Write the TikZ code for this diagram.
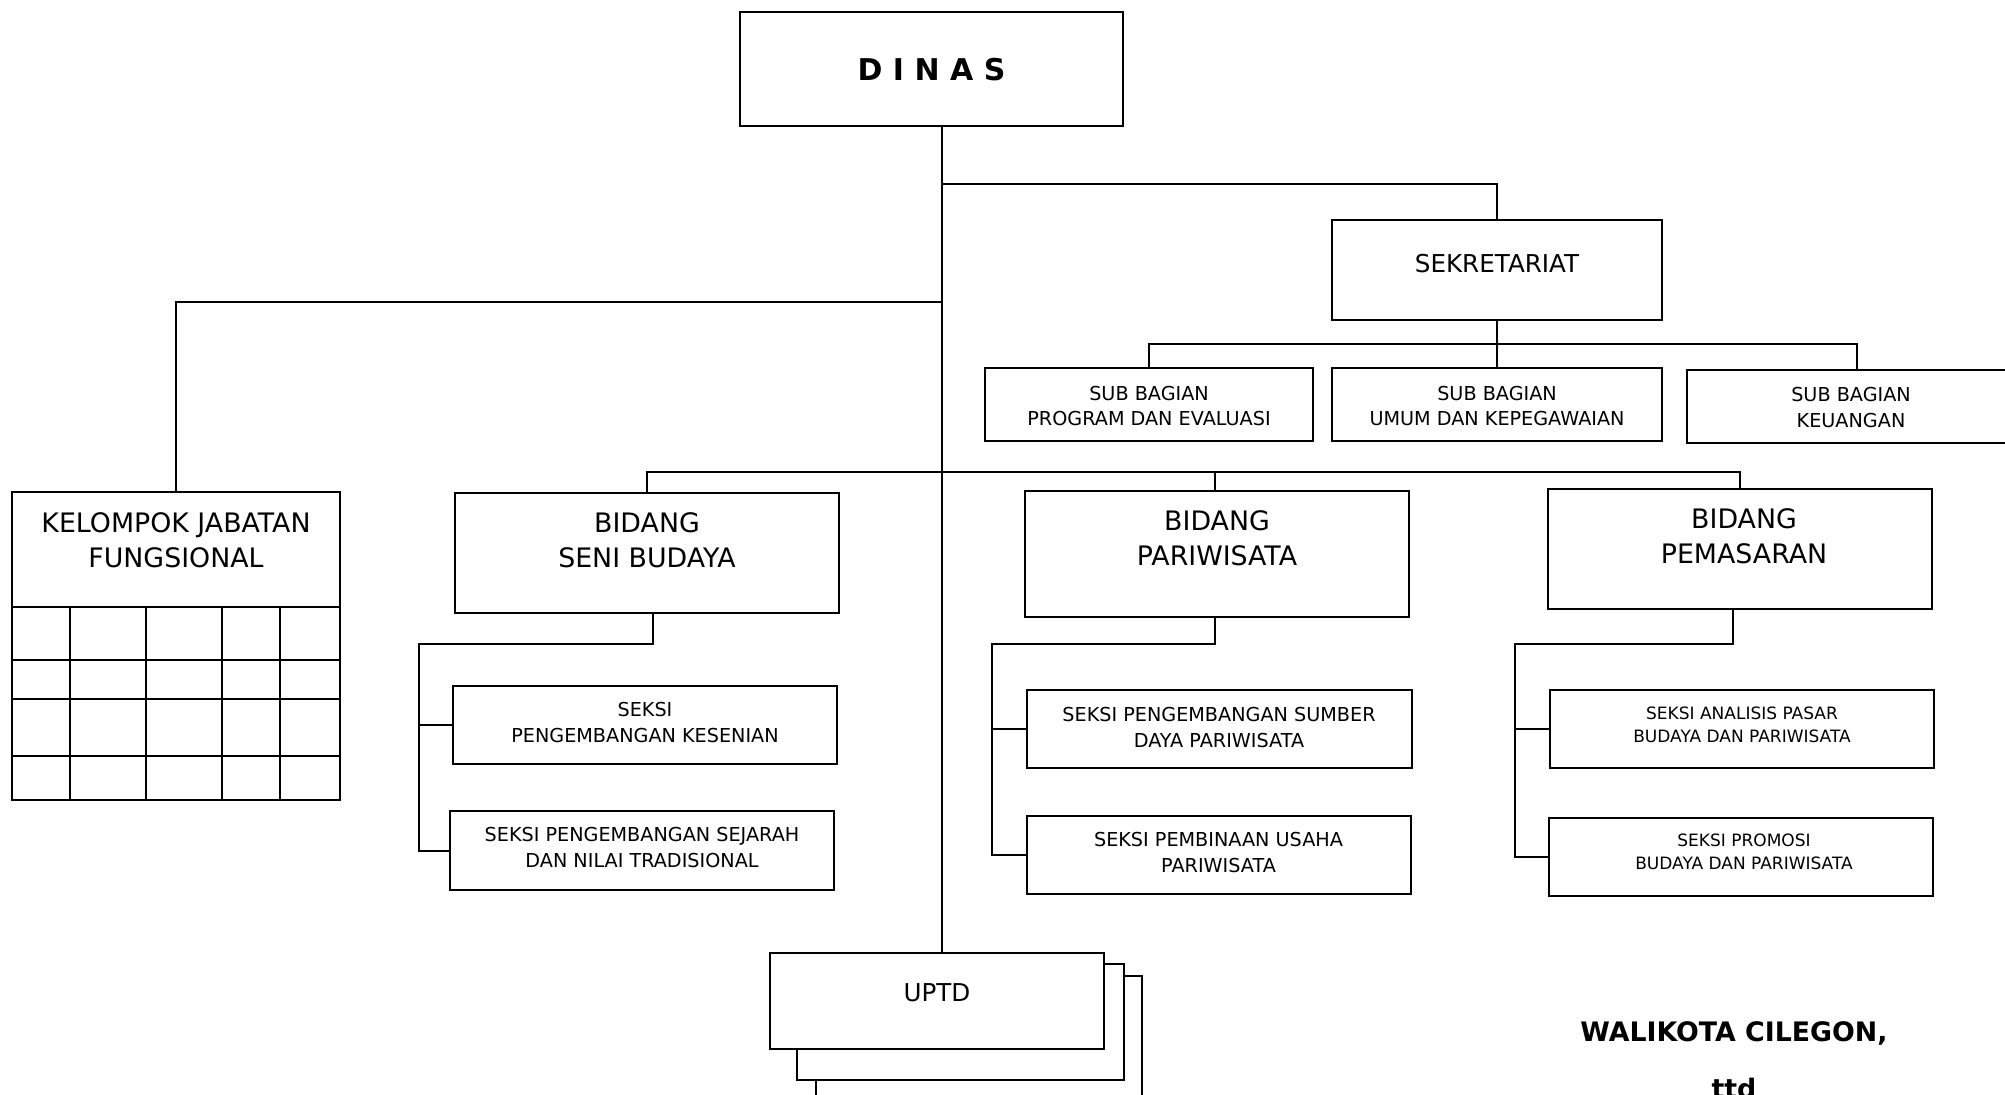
\documentclass[tikz,border=0pt]{standalone}
\usepackage{fontspec}
\setmainfont{DejaVu Sans}
\newcommand\obox[6][]{\node[box,#1,minimum width={(#4-#2)*0.5pt},minimum height={(#5-#3)*0.5pt},anchor=north west] (#6) at (#2,#3) {};}
\begin{document}
\begin{tikzpicture}[x=0.5pt,y=-0.5pt,
  box/.style={draw,line width=1.2pt,fill=white,inner sep=0pt,outer sep=0pt},
  conn/.style={draw,line width=1pt},
  grid/.style={draw,line width=1pt},
  txt/.style={inner sep=0pt,align=center},
  fdinas/.style={font=\bfseries\fontsize{15}{18}\selectfont},
  fsek/.style={font=\fontsize{12.3}{15}\selectfont},
  fsub/.style={font=\fontsize{9.6}{12.75}\selectfont},
  fbid/.style={font=\fontsize{13.4}{17.5}\selectfont},
  fseksi/.style={font=\fontsize{9.6}{13}\selectfont},
  fsmall/.style={font=\fontsize{8.5}{11.5}\selectfont},
  fsign/.style={font=\bfseries\fontsize{13.4}{16}\selectfont}]
\fill[white] (0,0) rectangle (2005,1095);
\useasboundingbox (0,0) rectangle (2005,1095);
\clip (0,0) rectangle (2005,1095);

% boxes
\obox{740}{12}{1123}{126}{dinas}
\obox{1332}{220}{1662}{320}{sek}
\obox{985}{368}{1313}{441}{sub1}
\obox{1332}{368}{1662}{441}{sub2}
\obox{1687}{370}{2027}{443}{sub3}
\obox{12}{492}{340}{800}{kjf}
\obox{455}{493}{839}{613}{seni}
\obox{1025}{491}{1409}{617}{pariw}
\obox{1548}{489}{1932}{609}{pemas}
\obox{453}{686}{837}{764}{kes}
\obox{450}{811}{834}{890}{sej}
\obox{1027}{690}{1412}{768}{sum}
\obox{1027}{816}{1411}{894}{pemb}
\obox{1550}{690}{1934}{768}{ana}
\obox{1549}{818}{1933}{896}{promo}
\obox{816}{976}{1142}{1140}{uptdc}
\obox{797}{964}{1124}{1080}{uptdb}
\obox{770}{953}{1104}{1049}{uptd}

% KJF grid
\foreach \yy in {607,660,699,756} \draw[grid] (kjf.west |- 0,\yy) -- (kjf.east |- 0,\yy);
\foreach \xx in {70,146,222,280} \draw[grid] (\xx,607) -- (kjf.south -| \xx,0);

% connectors
\coordinate (T) at (942,0);
\coordinate (jS) at (942,184);
\coordinate (jK) at (942,302);
\coordinate (jB) at (942,472);
\coordinate (hS) at (1497,344);
\coordinate (sB) at (419,644);
\coordinate (pB) at (992,644);
\coordinate (mB) at (1515,644);
\draw[conn] (dinas.south -| T) -- (uptd.north -| T);
\draw[conn] (jS) -| (sek.north);
\draw[conn] (sek.south) -- (sub2.north);
\draw[conn] (sub1.north) |- (hS) -| (sub3.north);
\draw[conn] (jK) -| (kjf.north);
\draw[conn] (seni.north) |- (jB) -| (pemas.north);
\draw[conn] ([xshift=-1pt]pariw.north) -- ([xshift=-1pt]pariw.north |- jB);
\draw[conn] ([xshift=3pt]seni.south) |- (sB) |- (kes.west);
\draw[conn] (sB) |- (sej.west);
\draw[conn] ([xshift=-1pt]pariw.south) |- (pB) |- (sum.west);
\draw[conn] (pB) |- (pemb.west);
\draw[conn] ([xshift=-3.5pt]pemas.south) |- (mB) |- (ana.west);
\draw[conn] (mB) |- (promo.west);

% texts
\node[txt,fdinas] (tdinas) at (931.5,70) {D I N A S};
\node[txt,fsek] (tsek) at (1497,264) {SEKRETARIAT};
\node[txt,fsub] (tsub1) at (1149,406) {SUB BAGIAN\\PROGRAM DAN EVALUASI};
\node[txt,fsub] (tsub2) at (1497,406) {SUB BAGIAN\\UMUM DAN KEPEGAWAIAN};
\node[txt,fsub] (tsub3) at (1851,407.5) {SUB BAGIAN\\KEUANGAN};
\node[txt,fbid] (tkjf) at (176,540.5) {KELOMPOK JABATAN\\FUNGSIONAL};
\node[txt,fbid] (tseni) at (647,540.5) {BIDANG\\SENI BUDAYA};
\node[txt,fbid] (tpariw) at (1217,537.75) {BIDANG\\PARIWISATA};
\node[txt,fbid] (tpemas) at (1744,535.75) {BIDANG\\PEMASARAN};
\node[txt,fseksi] (tkes) at (645,723) {SEKSI\\PENGEMBANGAN KESENIAN};
\node[txt,fseksi] (tsej) at (642,848) {SEKSI PENGEMBANGAN SEJARAH\\DAN NILAI TRADISIONAL};
\node[txt,fseksi] (tsum) at (1219,727.5) {SEKSI PENGEMBANGAN SUMBER\\DAYA PARIWISATA};
\node[txt,fseksi] (tpemb) at (1218.5,853) {SEKSI PEMBINAAN USAHA\\PARIWISATA};
\node[txt,fsmall] (tana) at (1742,725) {SEKSI ANALISIS PASAR\\BUDAYA DAN PARIWISATA};
\node[txt,fsmall] (tpromo) at (1744,852) {SEKSI PROMOSI\\BUDAYA DAN PARIWISATA};
\node[txt,fsek] (tuptd) at (937,993) {UPTD};
\node[txt,fsign,anchor=base] (twali) at (1734,1041) {WALIKOTA CILEGON,};
\node[txt,fsign,anchor=base] (tttd) at (1734,1098) {ttd};
\end{tikzpicture}
\end{document}
